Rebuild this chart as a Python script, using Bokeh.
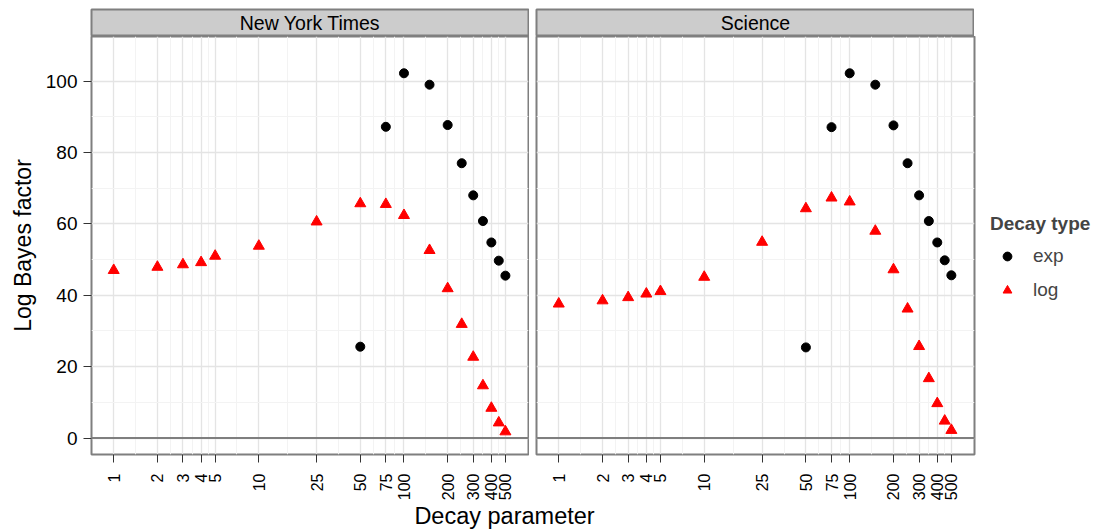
import numpy as np
from bokeh.plotting import figure
from bokeh.models import Range1d, FixedTicker, Span, Label, Legend, LegendItem
from bokeh.layouts import row, column
from bokeh.embed import file_html
from bokeh.resources import INLINE

# ---------------- data ----------------
panels = ["New York Times", "Science"]
x_ticks = [1, 2, 3, 4, 5, 10, 25, 50, 75, 100, 200, 300, 400, 500]
x_tick_labels = ["1", "2", "3", "4", "5", "10", "25", "50", "75", "100", "200", "300", "400", "500"]
y_ticks = [0, 20, 40, 60, 80, 100]
y_minor = [10, 30, 50, 70, 90]

log_x = [1, 2, 3, 4, 5, 10, 25, 50, 75, 100, 150, 200, 250, 300, 350, 400, 450, 500]
exp_x = [50, 75, 100, 150, 200, 250, 300, 350, 400, 450, 500]

nyt_log = [47.0, 47.9, 48.6, 49.2, 51.0, 53.8, 60.6, 65.7, 65.5, 62.4, 52.6, 41.9, 31.9, 22.7, 14.7, 8.4, 4.3, 1.8]
nyt_exp = [25.6, 87.2, 102.2, 99.0, 87.7, 77.0, 68.0, 60.8, 54.8, 49.7, 45.5]
sci_log = [37.6, 38.5, 39.4, 40.4, 41.1, 45.1, 54.9, 64.3, 67.3, 66.2, 58.0, 47.2, 36.2, 25.7, 16.7, 9.7, 4.8, 2.2]
sci_exp = [25.4, 87.1, 102.2, 99.0, 87.6, 77.0, 68.0, 60.8, 54.8, 49.8, 45.6]
hline_y = 0

legend_title = "Decay type"
legend_labels = ["exp", "log"]
x_title = "Decay parameter"
y_title = "Log Bayes factor"

# ---------------- style ----------------
FONT = "Liberation Sans"
BORDER = "#7f7f7f"
X_LO, X_HI = 10 ** -0.153, 10 ** 2.858
Y_LO, Y_HI = -4.6, 112.5
x_minor = [float(np.sqrt(a * b)) for a, b in zip(x_ticks[:-1], x_ticks[1:])]


def make_strip(name, first):
    s = figure(x_range=Range1d(0, 1), y_range=Range1d(0, 1),
               frame_width=437 if first else 438, frame_height=27,
               min_border_left=91 if first else 7, min_border_right=1 if first else 0,
               min_border_top=9, min_border_bottom=0,
               toolbar_location=None, output_backend="svg",
               x_axis_location=None, y_axis_location=None,
               background_fill_color="#cccccc",
               outline_line_color=BORDER, outline_line_width=2)
    s.grid.visible = False
    s.add_layout(Label(x=0.5, y=0.5, text=name, text_align="center", text_baseline="middle",
                       text_font_size="19.5px", text_font=FONT, text_color="black"))
    return s


def make_panel(log_vals, exp_vals, first):
    p = figure(x_axis_type="log", x_range=Range1d(X_LO, X_HI), y_range=Range1d(Y_LO, Y_HI),
               frame_width=437 if first else 438, frame_height=418,
               min_border_left=91 if first else 7, min_border_right=1 if first else 122,
               min_border_top=0, min_border_bottom=51,
               toolbar_location=None, output_backend="svg",
               y_axis_location="left" if first else None,
               background_fill_color="white",
               outline_line_color=BORDER, outline_line_width=2)
    xt = FixedTicker(ticks=x_ticks, minor_ticks=x_minor)
    yt = FixedTicker(ticks=y_ticks, minor_ticks=y_minor)
    p.xaxis.ticker = xt
    p.xgrid.ticker = xt
    p.ygrid.ticker = yt
    for g in (p.xgrid, p.ygrid):
        g.grid_line_color = "#e4e4e4"
        g.grid_line_width = 1.3
        g.minor_grid_line_color = "#f3f3f3"
        g.minor_grid_line_width = 1

    p.xaxis.major_label_overrides = {t: l for t, l in zip(x_ticks, x_tick_labels)}
    p.xaxis.major_label_orientation = np.pi / 2
    p.xaxis.major_label_text_font_size = "16px"
    p.xaxis.major_label_text_font = FONT
    p.xaxis.major_label_text_color = "black"
    p.xaxis.major_label_standoff = 11
    p.xaxis.major_tick_out = 8
    p.xaxis.major_tick_in = 0
    p.xaxis.major_tick_line_color = "#333333"
    p.xaxis.minor_tick_line_color = None
    p.xaxis.axis_line_color = None

    if first:
        p.yaxis.ticker = yt
        p.yaxis.major_label_text_font_size = "19px"
        p.yaxis.major_label_text_font = FONT
        p.yaxis.major_label_text_color = "black"
        p.yaxis.major_label_standoff = 6
        p.yaxis.major_tick_out = 8
        p.yaxis.major_tick_in = 0
        p.yaxis.major_tick_line_color = "#333333"
        p.yaxis.minor_tick_line_color = None
        p.yaxis.axis_line_color = None
        p.yaxis.axis_label = y_title
        p.yaxis.axis_label_text_font_size = "23px"
        p.yaxis.axis_label_text_font = FONT
        p.yaxis.axis_label_text_font_style = "normal"
        p.yaxis.axis_label_text_color = "black"
        p.yaxis.axis_label_standoff = 7

    p.add_layout(Span(location=hline_y, dimension="width", line_color=BORDER, line_width=2))
    r_exp = p.scatter(exp_x, exp_vals, marker="circle", size=9, color="black")
    r_log = p.scatter(log_x, log_vals, marker="triangle", size=11, color="#ff0000")
    return p, r_exp, r_log


s1 = make_strip(panels[0], True)
s2 = make_strip(panels[1], False)
p1, _, _ = make_panel(nyt_log, nyt_exp, True)
p2, e2, l2 = make_panel(sci_log, sci_exp, False)

legend = Legend(items=[LegendItem(label=legend_labels[0], renderers=[e2]),
                       LegendItem(label=legend_labels[1], renderers=[l2])],
                title=legend_title, location=(16, 153), orientation="vertical",
                border_line_color=None, background_fill_alpha=0,
                padding=0, margin=0, spacing=12,
                glyph_width=34, glyph_height=22, label_height=22, label_standoff=9,
                title_standoff=10,
                label_text_font_size="19px", label_text_font=FONT,
                title_text_font_size="19px", title_text_font=FONT,
                title_text_font_style="bold")
p2.add_layout(legend, "right")

xlab = figure(x_range=Range1d(0, 1), y_range=Range1d(0, 1),
              frame_width=1096, frame_height=24,
              min_border_left=0, min_border_right=0, min_border_top=0, min_border_bottom=0,
              toolbar_location=None, output_backend="svg",
              x_axis_location=None, y_axis_location=None,
              outline_line_color=None)
xlab.grid.visible = False
xlab.add_layout(Label(x=504, y=14, x_units="screen", y_units="screen", text=x_title,
                      text_align="center", text_baseline="alphabetic",
                      text_font_size="23.5px", text_font=FONT, text_color="black"))

layout = column(row(column(s1, p1), column(s2, p2)), xlab)

open("out.html", "w").write(file_html(layout, INLINE))
